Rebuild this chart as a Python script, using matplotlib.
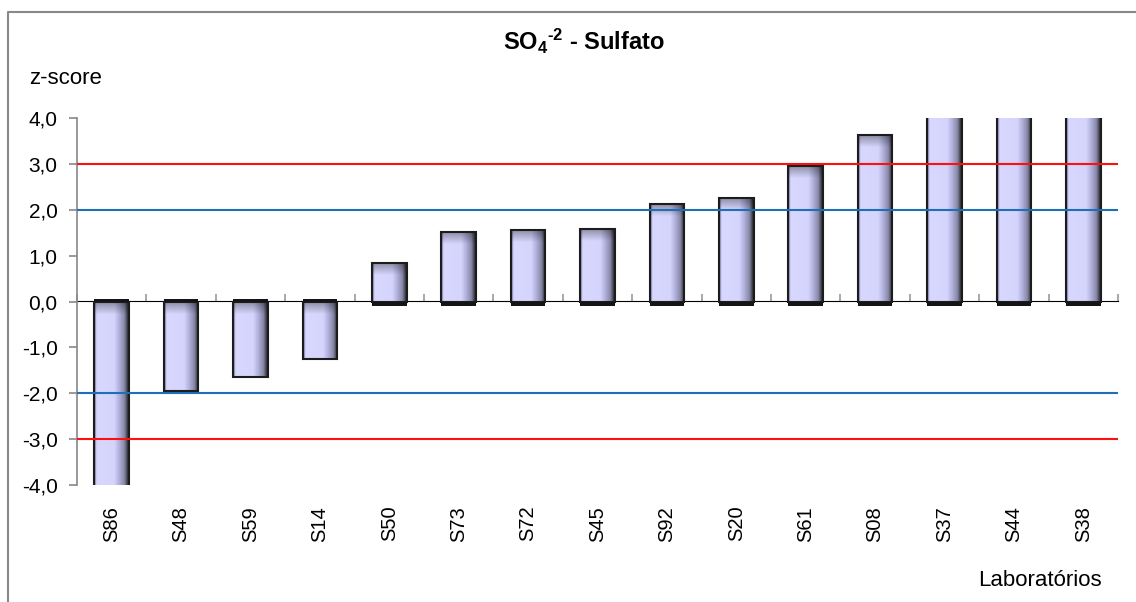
import numpy as np
import matplotlib.pyplot as plt
from matplotlib.patches import Rectangle
from matplotlib.lines import Line2D

plt.rcParams['font.family'] = ['Liberation Sans', 'DejaVu Sans']
plt.rcParams['mathtext.fontset'] = 'custom'
plt.rcParams['mathtext.rm'] = 'Liberation Sans:bold'
plt.rcParams['mathtext.default'] = 'rm'

labs = ['S86', 'S48', 'S59', 'S14', 'S50', 'S73', 'S72', 'S45',
        'S92', 'S20', 'S61', 'S08', 'S37', 'S44', 'S38']
zscore = [-5.1, -1.95, -1.64, -1.25, 0.85, 1.52, 1.55, 1.59,
          2.12, 2.25, 2.95, 3.64, 4.6, 5.0, 5.4]
lim_alerta = 2.0
lim_acao = 3.0
y_ticks = [-4, -3, -2, -1, 0, 1, 2, 3, 4]

# perfil horizontal do gradiente das barras
stops = [0.0, 0.04, 0.08, 0.58, 0.68, 0.78, 0.88, 0.94, 1.0]
cores = np.array([
    [0x25, 0x25, 0x30], [0xb8, 0xb8, 0xe8], [0xd8, 0xd8, 0xff],
    [0xd4, 0xd4, 0xfc], [0xbc, 0xbc, 0xe8], [0xa2, 0xa2, 0xca],
    [0x86, 0x86, 0xa6], [0x50, 0x50, 0x60], [0x22, 0x22, 0x2a]]) / 255.0


def gradiente(altura, nx=60, ny=200, topo=0.28):
    xs = np.linspace(0, 1, nx)
    perfil = np.stack([np.interp(xs, stops, cores[:, c]) for c in range(3)], axis=-1)
    ys = np.linspace(0, abs(altura), ny)  # distancia a partir do topo
    fator = np.clip(0.64 + 0.36 * ys / topo, 0, 1)
    return perfil[None, :, :] * fator[:, None, None]


fig = plt.figure(figsize=(11.36, 6.02), dpi=100)
ax = fig.add_axes([77 / 1136, 1 - 485 / 602, (1118 - 77) / 1136, (485 - 118) / 602])

largura = 0.5
x = np.arange(len(labs))
for xi, v in zip(x, zscore):
    x0, x1 = xi - largura / 2, xi + largura / 2
    topo, base = max(v, 0), min(v, 0)
    img = gradiente(v)
    ax.imshow(img, extent=[x0, x1, base, topo], aspect='auto', origin='upper',
              zorder=2, interpolation='bilinear')
    ax.add_patch(Rectangle((x0, base), largura, topo - base, fill=False,
                           edgecolor='#1c1c1c', lw=1.5, zorder=3))
    # sombra na base da barra
    h = -0.09 if v > 0 else 0.05
    ax.add_patch(Rectangle((x0, 0), largura, h, color='#151515', lw=0, zorder=3))

for y, cor in [(lim_acao, '#ff1010'), (-lim_acao, '#ff1010'),
               (lim_alerta, '#1f6fb8'), (-lim_alerta, '#1f6fb8')]:
    ax.axhline(y, color=cor, lw=1.5, zorder=4)

ax.set_xlim(-0.5, len(labs) - 0.5)
ax.set_ylim(-4, 4)
ax.set_yticks(y_ticks)
ax.set_yticklabels([f'{t:.1f}'.replace('.', ',') for t in y_ticks], fontsize=15)
ax.tick_params(axis='y', direction='out', length=6, width=1.2, color='#888888', pad=8)
ax.set_xticks(x)
ax.set_xticklabels(labs, rotation=90, fontsize=14.5)
ax.tick_params(axis='x', length=0, pad=15)
for s in ['top', 'right', 'bottom']:
    ax.spines[s].set_visible(False)
ax.spines['left'].set_color('#888888')
ax.spines['left'].set_linewidth(1.2)

# eixo das categorias na linha do zero
eixo0 = ax.secondary_xaxis(0.5)
eixo0.set_xticks(np.arange(len(labs) + 1) - 0.5)
eixo0.set_xticklabels([])
eixo0.tick_params(direction='out', length=5, width=1.2, color='#999999')
eixo0.spines['bottom'].set_color('#888888')
eixo0.spines['bottom'].set_linewidth(1.5)

fig.text(584 / 1136, 1 - 50 / 602, r'SO$_4$$^{\text{-}2}$ - Sulfato', fontsize=17,
         fontweight='bold', ha='center', va='baseline')
fig.text(29 / 1136, 1 - 79 / 602, 'z-score', fontsize=16, va='center', ha='left')
fig.text(1102 / 1136, 1 - 580 / 602, 'Laboratórios', fontsize=16, va='center', ha='right')

# moldura do grafico
fig.add_artist(Line2D([8 / 1136, 8 / 1136, 1.0], [0.0, 1 - 12 / 602, 1 - 12 / 602],
                      transform=fig.transFigure, color='#888888', lw=1.5))

fig.savefig('out.png', dpi=100)
